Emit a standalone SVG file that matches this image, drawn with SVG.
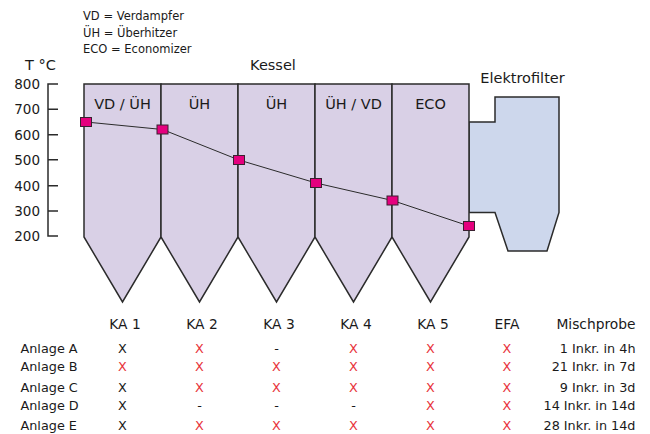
<svg xmlns="http://www.w3.org/2000/svg" width="650" height="434" viewBox="0 0 650 434">
<style>
text{font-family:"DejaVu Sans","Liberation Sans",sans-serif;fill:#1a1a1a}
.lg{font-size:11.5px}
.lb{font-size:14.5px}
.ax{font-size:13.5px;text-anchor:end}
.hd{font-size:13.8px;text-anchor:middle}
.rw{font-size:12.8px}
.c{text-anchor:middle}
.r{fill:#e8333b}
.e{text-anchor:end}
.kes{fill:#d9d0e6;stroke:#2b2b2b;stroke-width:1.5;stroke-linejoin:miter}
.ef{fill:#cdd7ec;stroke:#2b2b2b;stroke-width:1.5}
.mk{fill:#e5007e;stroke:#3a2030;stroke-width:1}
</style>
<rect width="650" height="434" fill="#ffffff"/>
<g id="legend">
<text class="lg" x="83" y="20">VD = Verdampfer</text>
<text class="lg" x="83" y="36.5">ÜH = Überhitzer</text>
<text class="lg" x="83" y="53">ECO = Economizer</text>
</g>
<g id="axis">
<text class="lb" x="25" y="69.5">T °C</text>
<path d="M58,84H48V236H58M48,109.3H58M48,134.7H58M48,159.7H58M48,185.7H58M48,211H58" fill="none" stroke="#2b2b2b" stroke-width="1.5"/>
<text class="ax" x="40" y="89">800</text>
<text class="ax" x="40" y="114.3">700</text>
<text class="ax" x="40" y="139.7">600</text>
<text class="ax" x="40" y="164.7">500</text>
<text class="ax" x="40" y="190.7">400</text>
<text class="ax" x="40" y="216">300</text>
<text class="ax" x="40" y="241">200</text>
</g>
<g id="elektrofilter">
<polygon class="ef" points="469,122 495,122 495,97 559,97 559,212.5 547,251 508,251 495,212.5 469,212.5"/>
<text class="lb c" x="522.5" y="83">Elektrofilter</text>
</g>
<g id="kessel">
<text class="lb c" x="273" y="70">Kessel</text>
<g id="ka1"><polygon class="kes" points="84,84 161,84 161,237 122.5,302 84,237"/><text class="lb c" x="122.5" y="109">VD / ÜH</text></g>
<g id="ka2"><polygon class="kes" points="161,84 238,84 238,237 199.5,302 161,237"/><text class="lb c" x="199.5" y="109">ÜH</text></g>
<g id="ka3"><polygon class="kes" points="238,84 315,84 315,237 276.5,302 238,237"/><text class="lb c" x="276.5" y="109">ÜH</text></g>
<g id="ka4"><polygon class="kes" points="315,84 392,84 392,237 353.5,302 315,237"/><text class="lb c" x="353.5" y="109">ÜH / VD</text></g>
<g id="ka5"><polygon class="kes" points="392,84 469,84 469,237 430.5,302 392,237"/><text class="lb c" x="430.5" y="109">ECO</text></g>
</g>
<g id="connectors">
<polyline points="86,122 162.5,129.5 239,160 316,183 392.5,200.5 469,226" fill="none" stroke="#2b2b2b" stroke-width="1"/>
</g>
<g id="temperatures">
<rect class="mk" x="80.5" y="117.5" width="11" height="9"/>
<rect class="mk" x="157" y="125" width="11" height="9"/>
<rect class="mk" x="233.5" y="155.5" width="11" height="9"/>
<rect class="mk" x="310.5" y="178.5" width="11" height="9"/>
<rect class="mk" x="387" y="196" width="11" height="9"/>
<rect class="mk" x="463.5" y="221.5" width="11" height="9"/>
</g>
<g id="table">
<text class="hd" x="125" y="328.5">KA 1</text>
<text class="hd" x="202" y="328.5">KA 2</text>
<text class="hd" x="279" y="328.5">KA 3</text>
<text class="hd" x="356" y="328.5">KA 4</text>
<text class="hd" x="433" y="328.5">KA 5</text>
<text class="hd" x="507" y="328.5">EFA</text>
<text class="hd" x="635.5" y="328.5" style="text-anchor:end">Mischprobe</text>

<text class="rw" x="20.5" y="353">Anlage A</text>
<text class="rw" x="20.5" y="371">Anlage B</text>
<text class="rw" x="20.5" y="391.5">Anlage C</text>
<text class="rw" x="20.5" y="410">Anlage D</text>
<text class="rw" x="20.5" y="429.5">Anlage E</text>

<g>
<text class="rw c" x="122.5" y="353">X</text>
<text class="rw c r" x="199.5" y="353">X</text>
<text class="rw c" x="276.5" y="353">-</text>
<text class="rw c r" x="353.5" y="353">X</text>
<text class="rw c r" x="430.5" y="353">X</text>
<text class="rw c r" x="507" y="353">X</text>
<text class="rw e" x="635.5" y="353">1 Inkr. in 4h</text>

<text class="rw c r" x="122.5" y="371">X</text>
<text class="rw c r" x="199.5" y="371">X</text>
<text class="rw c r" x="276.5" y="371">X</text>
<text class="rw c r" x="353.5" y="371">X</text>
<text class="rw c r" x="430.5" y="371">X</text>
<text class="rw c r" x="507" y="371">X</text>
<text class="rw e" x="635.5" y="371">21 Inkr. in 7d</text>

<text class="rw c" x="122.5" y="391.5">X</text>
<text class="rw c r" x="199.5" y="391.5">X</text>
<text class="rw c r" x="276.5" y="391.5">X</text>
<text class="rw c r" x="353.5" y="391.5">X</text>
<text class="rw c r" x="430.5" y="391.5">X</text>
<text class="rw c r" x="507" y="391.5">X</text>
<text class="rw e" x="635.5" y="391.5">9 Inkr. in 3d</text>

<text class="rw c" x="122.5" y="410">X</text>
<text class="rw c" x="199.5" y="410">-</text>
<text class="rw c" x="276.5" y="410">-</text>
<text class="rw c" x="353.5" y="410">-</text>
<text class="rw c r" x="430.5" y="410">X</text>
<text class="rw c r" x="507" y="410">X</text>
<text class="rw e" x="635.5" y="410">14 Inkr. in 14d</text>

<text class="rw c" x="122.5" y="429.5">X</text>
<text class="rw c r" x="199.5" y="429.5">X</text>
<text class="rw c r" x="276.5" y="429.5">X</text>
<text class="rw c r" x="353.5" y="429.5">X</text>
<text class="rw c r" x="430.5" y="429.5">X</text>
<text class="rw c r" x="507" y="429.5">X</text>
<text class="rw e" x="635.5" y="429.5">28 Inkr. in 14d</text>
</g>
</g>
</svg>
